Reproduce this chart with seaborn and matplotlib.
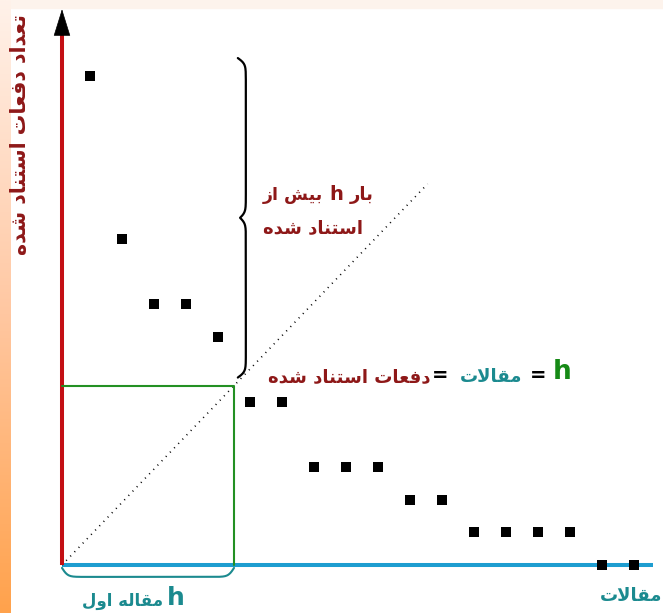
import numpy as np
import pandas as pd
import matplotlib
matplotlib.use("Agg")
import matplotlib.pyplot as plt
import seaborn as sns
from matplotlib.colors import LinearSegmentedColormap

#  Data: citations per article (sorted, descending) 
articles = list(range(1, 19))
citations = [15, 10, 8, 8, 7, 5, 5, 3, 3, 3, 2, 2, 1, 1, 1, 1, 0, 0]
h_index = 5

#  Labels (logical order, Persian) 
y_label = "تعداد دفعات استناد شده"
x_label = "مقالات"
above_line1 = ["بیش از", "h", "بار"]   # runs, laid out left to right as in the picture
above_line2 = "استناد شده"
eq_left = "دفعات استناد شده"
eq_mid = "مقالات"
first_h = "مقاله اول"

#  Tiny Arabic/Persian shaper (matplotlib has no shaping / bidi) 
FORMS = {
    "ا": ("\uFE8D", "\uFE8E", None, None),
    "ب": ("\uFE8F", "\uFE90", "\uFE91", "\uFE92"),
    "ت": ("\uFE95", "\uFE96", "\uFE97", "\uFE98"),
    "د": ("\uFEA9", "\uFEAA", None, None),
    "ر": ("\uFEAD", "\uFEAE", None, None),
    "ز": ("\uFEAF", "\uFEB0", None, None),
    "س": ("\uFEB1", "\uFEB2", "\uFEB3", "\uFEB4"),
    "ش": ("\uFEB5", "\uFEB6", "\uFEB7", "\uFEB8"),
    "ع": ("\uFEC9", "\uFECA", "\uFECB", "\uFECC"),
    "ف": ("\uFED1", "\uFED2", "\uFED3", "\uFED4"),
    "ق": ("\uFED5", "\uFED6", "\uFED7", "\uFED8"),
    "ل": ("\uFEDD", "\uFEDE", "\uFEDF", "\uFEE0"),
    "م": ("\uFEE1", "\uFEE2", "\uFEE3", "\uFEE4"),
    "ن": ("\uFEE5", "\uFEE6", "\uFEE7", "\uFEE8"),
    "ه": ("\uFEE9", "\uFEEA", "\uFEEB", "\uFEEC"),
    "و": ("\uFEED", "\uFEEE", None, None),
    "ی": ("\uFBFC", "\uFBFD", "\uFBFE", "\uFBFF"),
}


def joins_next(c):
    return c in FORMS and FORMS[c][2] is not None


def shape(text):
    chars = list(text)
    out = []
    i = 0
    while i < len(chars):
        c = chars[i]
        if c not in FORMS:
            out.append(c)
            i += 1
            continue
        prev = chars[i - 1] if i > 0 else ""
        link_prev = joins_next(prev)
        if c == "ل" and i + 1 < len(chars) and chars[i + 1] == "ا":
            out.append("\uFEFC" if link_prev else "\uFEFB")
            i += 2
            continue
        nxt = chars[i + 1] if i + 1 < len(chars) else ""
        link_next = FORMS[c][2] is not None and nxt in FORMS
        iso, fin, ini, med = FORMS[c]
        if link_prev and link_next:
            g = med
        elif link_prev:
            g = fin
        elif link_next:
            g = ini
        else:
            g = iso
        out.append(g)
        i += 1
    return "".join(reversed(out))


def sig(x):
    return 1 / (1 + np.exp(-x))


def brace(ax, a, b, pos, depth, tip, vertical, color, lw, beta):
    # ends sit at pos, body at pos + depth/2, the middle tip moves by -tip/2 from the body
    t = np.linspace(0, 1, 401)
    half = t[:201]
    s1 = sig(beta * half)
    s2 = sig(beta * (half - 0.5))
    p_half = depth * (s1 - 0.5) - tip * s2
    prof = np.concatenate([p_half, p_half[-2::-1]])
    along = a + (b - a) * t
    perp = pos + prof
    if vertical:
        ax.plot(perp, along, color=color, lw=lw, solid_capstyle="round")
    else:
        ax.plot(along, perp, color=color, lw=lw, solid_capstyle="round")


#  Colours 
RED_AXIS = "#c30f14"
BLUE_AXIS = "#1e9dd0"
GREEN = "#239023"
DARK_RED = "#8e1818"
TEAL = "#1b8a8f"
H_GREEN = "#168a16"

sns.set_style("white")
plt.rcParams["font.family"] = ["DejaVu Sans"]

W, H = 663, 613
fig = plt.figure(figsize=(W / 100, H / 100), dpi=100)

# soft orange strip on the left + faint band on the top
strip = fig.add_axes([0, 0, 11 / W, 1])
grad = np.linspace(0, 1, 256).reshape(-1, 1)
cmap = LinearSegmentedColormap.from_list("strip", ["#fff2ea", "#ffc8a3", "#ffa24c"])
strip.imshow(grad, aspect="auto", cmap=cmap, extent=[0, 1, 0, 1], origin="upper")
strip.axis("off")
fig.patches.append(plt.Rectangle((11 / W, 1 - 8 / H), 1, 8 / H, transform=fig.transFigure,
                                 color="#fdf3ec", zorder=0))

ax = fig.add_axes([0, 0, 1, 1])
ax.set_xlim(-58 / 32, (W - 58) / 32)
ax.set_ylim(-(H - 565) / 32.6, 565 / 32.6)
ax.axis("off")
ax.patch.set_alpha(0)

x0 = 0.125  # where the two axes meet
hx = h_index + 0.5

df = pd.DataFrame({"article": articles, "citations": citations})

# axes lines
ax.plot([x0, x0], [0, 16.3], color=RED_AXIS, lw=2.9, solid_capstyle="butt", zorder=3)
ax.plot([x0, 18.6], [0, 0], color=BLUE_AXIS, lw=2.9, solid_capstyle="butt", zorder=2)
ax.annotate("", xy=(x0, 17.05), xytext=(x0, 16.25),
            arrowprops=dict(arrowstyle="-|>,head_length=0.9,head_width=0.28", mutation_scale=20,
                            color="black", lw=0.5, shrinkA=0, shrinkB=0), zorder=4)
ax.annotate("", xy=(19.08, 0), xytext=(18.3, 0),
            arrowprops=dict(arrowstyle="-|>,head_length=0.9,head_width=0.28", mutation_scale=20,
                            color="black", lw=0.5, shrinkA=0, shrinkB=0), zorder=4)

# h box
ax.plot([x0, hx, hx], [hx, hx, 0], color=GREEN, lw=1.5, zorder=3)

# diagonal
diag_end = 11.55
ax.plot([x0, diag_end], [0, (diag_end - x0) * hx / (hx - x0)], color="black", lw=1.2,
        ls=(0, (0.6, 3.0)), zorder=2)

# points
sns.scatterplot(data=df, x="article", y="citations", marker="s", color="black", s=55,
                linewidth=0, ax=ax, zorder=5)

# braces
brace(ax, 5.75, 15.55, 5.62, 0.5, 0.36, True, "black", 1.6, 110)
brace(ax, x0, hx, -0.09, -0.55, 0.0, False, TEAL, 1.5, 60)


def ftext(px, py, s, **kw):
    return fig.text(px / W, 1 - py / H, s, **kw)


bold = dict(fontweight="bold")
ftext(20, 14, shape(y_label), rotation=90, ha="center", va="top", color=DARK_RED,
      fontsize=14.8, **bold)

# first line: runs placed left to right
ftext(263, 195, shape(above_line1[0]), ha="left", va="center", color=DARK_RED, fontsize=12.5, **bold)
ftext(336, 194, above_line1[1], ha="center", va="center", color=DARK_RED, fontsize=14, **bold)
ftext(374, 195, shape(above_line1[2]), ha="right", va="center", color=DARK_RED, fontsize=13, **bold)
ftext(263, 228, shape(above_line2), ha="left", va="center", color=DARK_RED, fontsize=13, **bold)

ftext(431, 377, shape(eq_left), ha="right", va="center", color=DARK_RED, fontsize=13, **bold)
ftext(440, 376, "=", ha="center", va="center", color="black", fontsize=14, **bold)
ftext(491, 377, shape(eq_mid), ha="center", va="center", color=TEAL, fontsize=13, **bold)
ftext(538, 376, "=", ha="center", va="center", color="black", fontsize=14, **bold)
ftext(562, 372, "h", ha="center", va="center", color=H_GREEN, fontsize=19, **bold)

ftext(163, 601, shape(first_h), ha="right", va="center", color=TEAL, fontsize=12, **bold)
ftext(176, 598, "h", ha="center", va="center", color=TEAL, fontsize=18, **bold)
ftext(662, 596, shape(x_label), ha="right", va="center", color=TEAL, fontsize=13, **bold)

fig.savefig("out.png", dpi=100)
